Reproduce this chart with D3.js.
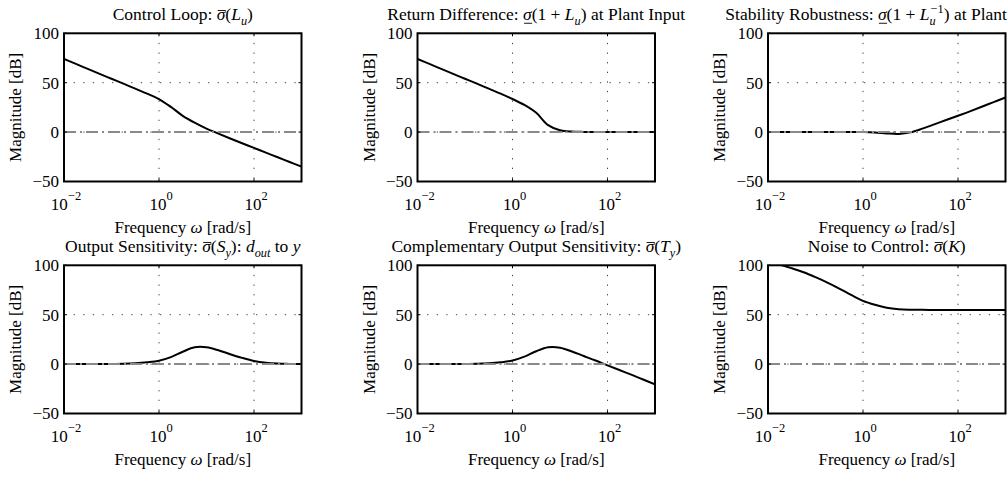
<!DOCTYPE html>
<html><head><meta charset="utf-8">
<script src="https://cdn.jsdelivr.net/npm/d3@7"></script>
<style>
body{margin:0;background:#fff}
svg{display:block}
</style>
</head><body>
<svg id="chart" width="1008" height="477" font-family="'Liberation Serif', 'DejaVu Serif', serif"></svg>
<script>
// ---- data (frequency grid in rad/s, magnitudes in dB) ----
const freqs = [0.01,0.0178,0.0316,0.0562,0.1,0.178,0.316,0.562,1,1.78,3.16,5.62,10,17.8,31.6,56.2,100,178,316,562,1000];
const loopGain   = [74,69,64,59,54,49,44,39,33.5,25.5,16.5,9.5,3.5,-1.5,-6.5,-11.3,-16,-20.8,-25.5,-30.3,-35];
const returnDiff = [74,69,64,59,54,49,44,39,33.5,27.5,19.5,7,1.8,0.5,0.2,0.1,0,0,0,0,0];
const stabRobust = [0,0,0,0,0,0,0,0,0,-0.3,-1.3,-1.8,-0.2,3.5,7.8,12.2,16.5,21,25.7,30.4,35];
const outSens    = [0,0,0,0.05,0.1,0.3,0.8,1.8,3.4,7,12.5,17,17,14,10,6.3,3.2,1.4,0.5,0.2,0];
const compSens   = [0,0,0,0.05,0.1,0.3,0.8,1.8,3.6,7.5,13,17,16.6,12.8,8.2,3.6,-1.3,-6,-10.7,-15.6,-20.5];
const noiseCtrl  = [103,100.5,97,93,88,82.5,76.5,70,64,60,57,55.5,55,54.9,54.8,54.8,54.8,54.8,54.8,54.8,54.8];
const xTicks = [0.01,1,100];
const xTickExp = ["\u22122","0","2"];
const yTicks = [-50,0,50,100];
const yTickLabels = ["\u221250","0","50","100"];
const xDomain = [0.01,1000];
const yDomain = [-50,100];
const xLabel = [{t:"Frequency "},{t:"\u03c9",i:1},{t:" [rad/s]"}];
const yLabel = "Magnitude [dB]";

const titles = [
  [{t:"Control Loop: "},{t:"\u03c3",i:1,o:1},{t:"("},{t:"L",i:1},{t:"u",i:1,s:"sub"},{t:")"}],
  [{t:"Return Difference: "},{t:"\u03c3",i:1,u:1},{t:"(1 + "},{t:"L",i:1},{t:"u",i:1,s:"sub"},{t:") at Plant Input"}],
  [{t:"Stability Robustness: "},{t:"\u03c3",i:1,u:1},{t:"(1 + "},{t:"L",i:1},{t:"u",i:1,s:"sub"},{t:"\u22121",s:"sup",dx:-5},{t:") at Plant Input"}],
  [{t:"Output Sensitivity: "},{t:"\u03c3",i:1,o:1},{t:"("},{t:"S",i:1},{t:"y",i:1,s:"sub"},{t:"): "},{t:"d",i:1},{t:"out",i:1,s:"sub"},{t:" to "},{t:"y",i:1}],
  [{t:"Complementary Output Sensitivity: "},{t:"\u03c3",i:1,o:1},{t:"("},{t:"T",i:1},{t:"y",i:1,s:"sub"},{t:")"}],
  [{t:"Noise to Control: "},{t:"\u03c3",i:1,o:1},{t:"("},{t:"K",i:1},{t:")"}]
];
const series = [loopGain, returnDiff, stabRobust, outSens, compSens, noiseCtrl];

// ---- layout ----
const FONT = "'Liberation Serif', 'DejaVu Serif', serif";
const colX = [64, 417.5, 768];
const rowY = [33.3, 265.3];
const PW = 237.5, PH = 148.2;
const svg = d3.select("#chart");

function rich(g, textSel, segs, size, baseY){
  let cur = 0, idx = 0;
  const marks = [];
  segs.forEach(s=>{
    const fs = s.s ? size*0.7 : size;
    const off = s.s==="sub" ? size*0.28 : s.s==="sup" ? -size*0.42 : 0;
    const ts = textSel.append("tspan").text(s.t).attr("font-size", fs).attr("dy", off-cur);
    if(s.i) ts.attr("font-style","italic");
    if(s.dx) ts.attr("dx", s.dx);
    if(s.o || s.u) marks.push({idx, o:s.o, n:s.t.length});
    idx += s.t.length;
    cur = off;
  });
  const node = textSel.node();
  marks.forEach(m=>{
    const a = node.getExtentOfChar(m.idx);
    const b = node.getExtentOfChar(m.idx + m.n - 1);
    const yy = m.o ? baseY - size*0.56 : baseY + size*0.17;
    g.append("line").attr("x1",a.x+1).attr("x2",b.x+b.width+0.5)
      .attr("y1",yy).attr("y2",yy).attr("stroke","#000").attr("stroke-width",0.9);
  });
}

series.forEach((vals, k)=>{
  const left = colX[k%3], top = rowY[Math.floor(k/3)];
  const g = svg.append("g").attr("transform",`translate(${left},${top})`);
  const x = d3.scaleLog().domain(xDomain).range([0,PW]);
  const y = d3.scaleLinear().domain(yDomain).range([PH,0]);
  const cid = "clip"+k;
  g.append("clipPath").attr("id",cid).append("rect").attr("width",PW).attr("height",PH);

  // grid
  g.selectAll(".gx").data(xTicks).join("line")
    .attr("x1",d=>x(d)).attr("x2",d=>x(d)).attr("y1",0).attr("y2",PH)
    .attr("stroke","#444").attr("stroke-width",1).attr("stroke-dasharray","1.3,8.3");
  g.selectAll(".gy").data(yTicks).join("line")
    .attr("y1",d=>y(d)).attr("y2",d=>y(d)).attr("x1",0).attr("x2",PW)
    .attr("stroke","#444").attr("stroke-width",1).attr("stroke-dasharray","1.3,8.3");

  // curve
  const line = d3.line().x((d,i)=>x(freqs[i])).y(d=>y(d)).curve(d3.curveCatmullRom.alpha(0.5));
  g.append("path").datum(vals).attr("d",line).attr("fill","none")
    .attr("stroke","#000").attr("stroke-width",2).attr("clip-path",`url(#${cid})`);

  // 0 dB reference (dash-dot)
  g.append("line").attr("x1",0).attr("x2",PW).attr("y1",y(0)).attr("y2",y(0))
    .attr("stroke","#8a8a8a").attr("stroke-width",2).attr("stroke-dasharray","12,4,2,4");

  // box
  g.append("rect").attr("width",PW).attr("height",PH).attr("fill","none")
    .attr("stroke","#000").attr("stroke-width",2);

  // inward ticks
  const tl = 3;
  xTicks.forEach(t=>{
    g.append("line").attr("x1",x(t)).attr("x2",x(t)).attr("y1",PH).attr("y2",PH-tl).attr("stroke","#000");
    g.append("line").attr("x1",x(t)).attr("x2",x(t)).attr("y1",0).attr("y2",tl).attr("stroke","#000");
  });
  yTicks.forEach(t=>{
    g.append("line").attr("y1",y(t)).attr("y2",y(t)).attr("x1",0).attr("x2",tl).attr("stroke","#000");
    g.append("line").attr("y1",y(t)).attr("y2",y(t)).attr("x1",PW).attr("x2",PW-tl).attr("stroke","#000");
  });

  // tick labels
  xTicks.forEach((t,i)=>{
    const tx = g.append("text").attr("font-family",FONT).attr("x",x(t)+2).attr("y",PH+29).attr("text-anchor","middle");
    tx.append("tspan").text("10").attr("font-size",17);
    tx.append("tspan").text(xTickExp[i]).attr("font-size",12.5).attr("dy",-10);
  });
  yTicks.forEach((t,i)=>{
    g.append("text").attr("font-family",FONT).attr("x",-5).attr("y",y(t)+6).attr("text-anchor","end")
      .attr("font-size",17).text(yTickLabels[i]);
  });

  // axis labels
  rich(g, g.append("text").attr("font-family",FONT).attr("x",PW/2).attr("y",PH+51.5).attr("text-anchor","middle"), xLabel, 17, PH+51.5);
  g.append("text").attr("font-family",FONT).attr("transform",`translate(${-43},${PH/2}) rotate(-90)`)
    .attr("text-anchor","middle").attr("font-size",17).text(yLabel);

  // title
  rich(g, g.append("text").attr("font-family",FONT).attr("x",PW/2).attr("y",-13).attr("text-anchor","middle"), titles[k], 17.5, -13);
});
</script>
</body></html>
